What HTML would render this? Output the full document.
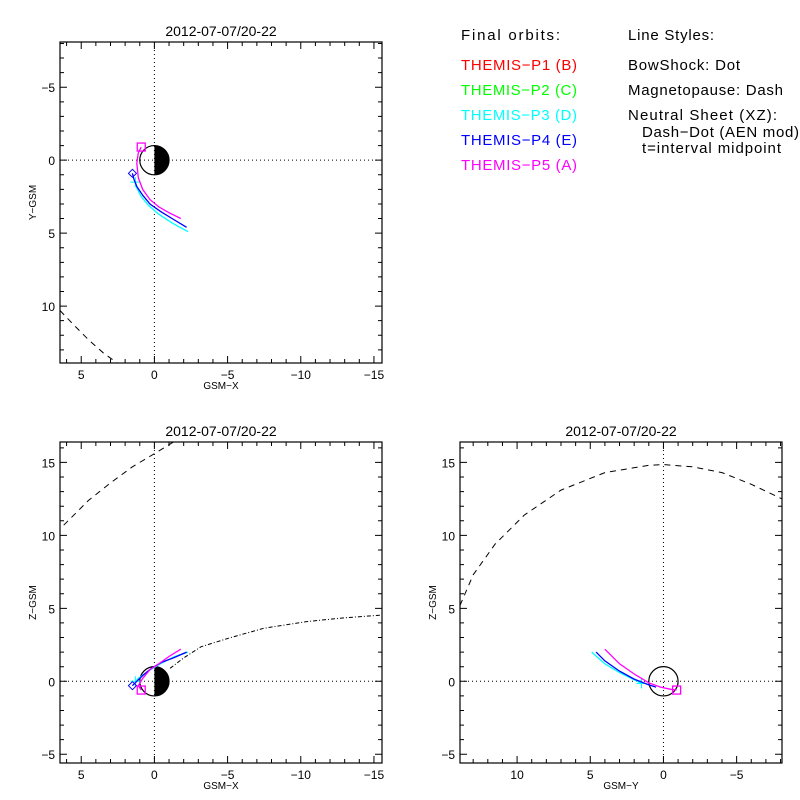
<!DOCTYPE html>
<html><head><meta charset="utf-8"><style>
body{margin:0;background:#fff}
svg{display:block;font-family:"Liberation Sans",sans-serif}
</style></head><body>
<svg id="s" width="800" height="800" viewBox="0 0 800 800">
<g id="legend" font-size="15">
<text x="461" y="40" textLength="99">Final orbits:</text>
<text x="461" y="70" fill="#ff0000" textLength="116">THEMIS−P1 (B)</text>
<text x="461" y="95" fill="#00ff00" textLength="116">THEMIS−P2 (C)</text>
<text x="461" y="120" fill="#00ffff" textLength="116">THEMIS−P3 (D)</text>
<text x="461" y="145" fill="#0000ff" textLength="116">THEMIS−P4 (E)</text>
<text x="461" y="170" fill="#ff00ff" textLength="116">THEMIS−P5 (A)</text>
<text x="628" y="40" textLength="86">Line Styles:</text>
<text x="628" y="70" textLength="112">BowShock: Dot</text>
<text x="628" y="95" textLength="155">Magnetopause: Dash</text>
<text x="628" y="120" textLength="149">Neutral Sheet (XZ):</text>
<text x="642" y="137" textLength="157">Dash−Dot (AEN mod)</text>
<text x="642" y="153" textLength="139">t=interval midpoint</text>
</g>
</svg>
<script>
// Panel 1 (XY)
const xyP5X=[0.9,1.1,1.2,1.1,0.8,0.3,-0.3,-1.0,-1.8];
const xyP5Y=[-0.9,-0.5,0.2,1.2,2.0,2.7,3.2,3.6,4.0];
const xyP4X=[1.5,1.4,1.2,0.8,0.3,-0.4,-1.2,-2.2];
const xyP4Y=[0.9,1.3,1.8,2.4,3.0,3.5,4.0,4.6];
const xyP3X=[1.3,1.2,0.9,0.4,-0.3,-1.2,-2.3];
const xyP3Y=[1.5,1.9,2.5,3.1,3.7,4.3,4.9];
const xyMpX=[6.45,5.5,4.5,3.5,2.4];
const xyMpY=[10.3,11.3,12.3,13.2,14.0];
// Panel 2 (XZ)
const xzP5X=[0.9,1.1,0.8,0.3,-0.3,-1.0,-1.8];
const xzP5Z=[-0.6,-0.3,0.2,0.8,1.2,1.7,2.2];
const xzP4X=[1.5,1.2,0.8,0.2,-0.5,-1.3,-2.2];
const xzP4Z=[-0.3,0.0,0.4,0.9,1.3,1.6,2.0];
const xzP3X=[1.3,1.1,0.7,0.1,-0.6,-1.4,-2.3];
const xzP3Z=[0.0,0.2,0.5,0.9,1.3,1.7,2.0];
const xzMpX=[6.2,4.5,3.0,1.5,0.0,-1.3];
const xzMpZ=[10.7,12.4,13.6,14.7,15.6,16.4];
const xzNsX=[-1.07,-2.0,-3.2,-5.07,-7.47,-10.4,-13.0,-15.6];
const xzNsZ=[0.89,1.6,2.37,2.95,3.63,4.09,4.35,4.54];
// Panel 3 (YZ)
const yzP5Y=[-0.9,-0.5,0.2,1.0,2.0,3.0,4.0];
const yzP5Z=[-0.6,-0.55,-0.4,-0.1,0.5,1.2,2.2];
const yzP4Y=[0.5,1.0,2.0,3.0,4.0,4.6];
const yzP4Z=[-0.4,-0.25,0.15,0.7,1.4,2.0];
const yzP3Y=[1.5,2.0,3.0,4.0,4.9];
const yzP3Z=[-0.15,0.1,0.6,1.2,2.0];
const yzMpY=[13.9,13.0,11.5,9.5,7.0,4.0,1.0,0,-2.0,-4.0,-6.0,-8.1];
const yzMpZ=[5.2,7.3,9.4,11.4,13.1,14.3,14.8,14.85,14.7,14.3,13.5,12.5];

const NS='http://www.w3.org/2000/svg';
const svg=document.getElementById('s');
function mk(tag,attrs,parent){const e=document.createElementNS(NS,tag);for(const k in attrs)e.setAttribute(k,attrs[k]);(parent||svg).appendChild(e);return e;}

function panel(cfg){
  const g=mk('g',{});
  
  
  const {x0,x1,y0,y1}=cfg.box;
  const sx=v=>x0+(cfg.xr[0]-v)/(cfg.xr[0]-cfg.xr[1])*(x1-x0);
  const sy=v=>y0+(cfg.yr[0]-v)/(cfg.yr[0]-cfg.yr[1])*(y1-y0);
  const t=mk('text',{x:(x0+x1)/2,y:y0-6,'text-anchor':'middle','font-size':14},g);
  t.textContent='2012-07-07/20-22';
  
  
  const clip='c'+cfg.name;
  const cp=mk('clipPath',{id:clip},g);mk('rect',{x:x0,y:y0,width:x1-x0,height:y1-y0},cp);
  const pg=mk('g',{'clip-path':'url(#'+clip+')'},g);
  // axes zero lines
  const zl=mk('line',{x1:x0,x2:x1,y1:sy(0),y2:sy(0),stroke:'#000','stroke-dasharray':'1,3'},pg);
  
  
  const zv=mk('line',{x1:sx(0),x2:sx(0),y1:y0,y2:y1,stroke:'#000','stroke-dasharray':'1,3'},pg);
  
  
  // earth
  const r=sx(0)-sx(1);
  if(cfg.half){
    const hp=mk('path',{d:`M${sx(0)},${sy(0)-r} A${r},${r} 0 0 1 ${sx(0)},${sy(0)+r} Z`,fill:'#000'},pg);
    
    
  }
  const ec=mk('circle',{cx:sx(0),cy:sy(0),r:r,fill:'none',stroke:'#000','stroke-width':1.2},pg);
  
  
  cfg.lines.forEach(L=>{
    const pts=L.xs.map((v,i)=>sx(v).toFixed(1)+','+sy(L.ys[i]).toFixed(1)).join(' ');
    const pl=mk('polyline',{points:pts,fill:'none',stroke:L.c,'stroke-width':L.w||1.3,'stroke-dasharray':L.d||''},pg);
    
    
    if(L.m){
      const px=sx(L.xs[0]),py=sy(L.ys[0]);let m;
      if(L.m==='sq')m=mk('rect',{x:px-4,y:py-4,width:8,height:8,fill:'none',stroke:L.c,'stroke-width':1.3},pg);
      else if(L.m==='di')m=mk('path',{d:`M${px},${py-4}L${px+4},${py}L${px},${py+4}L${px-4},${py}Z`,fill:'none',stroke:L.c},pg);
      else m=mk('path',{d:`M${px-5},${py}H${px+5}M${px},${py-5}V${py+5}`,stroke:L.c},pg);
      
      
    }
  });
  const fr=mk('rect',{x:x0,y:y0,width:x1-x0,height:y1-y0,fill:'none',stroke:'#000','stroke-width':1.2},g);
  
  
  // ticks
  let d='';
  const xa=Math.min(...cfg.xr),xb=Math.max(...cfg.xr);
  for(let v=Math.ceil(xa);v<=xb;v++){const L=v%5===0?7:4;const X=sx(v);d+=`M${X},${y1}v${-L}M${X},${y0}v${L}`;
    if(v%5===0){const tl=mk('text',{x:X,y:y1+16,'text-anchor':'middle','font-size':12},g);tl.textContent=v===0?'0':(v<0?'−'+(-v):v);
      
      }}
  const ya=Math.min(...cfg.yr),yb=Math.max(...cfg.yr);
  for(let v=Math.ceil(ya);v<=yb;v++){const L=v%5===0?7:4;const Y=sy(v);d+=`M${x0},${Y}h${L}M${x1},${Y}h${-L}`;
    if(v%5===0){const tl=mk('text',{x:x0-5,y:Y+5,'text-anchor':'end','font-size':12},g);tl.textContent=v===0?'0':(v<0?'−'+(-v):v);
      
      }}
  const tk=mk('path',{d:d,stroke:'#000','stroke-width':1},g);
  
  
  const xt=mk('text',{x:(x0+x1)/2,y:y1+26,'text-anchor':'middle','font-size':10},g);xt.textContent=cfg.xl;
  
  
  const yt=mk('text',{x:0,y:0,'text-anchor':'middle','font-size':10,transform:`translate(${x0-24},${(y0+y1)/2}) rotate(-90)`},g);yt.textContent=cfg.yl;
  
  
}
panel({name:'xy-panel',box:{x0:60,x1:382,y0:42,y1:363},xr:[6.45,-15.55],yr:[-8.1,13.9],xl:'GSM−X',yl:'Y−GSM',half:true,lines:[
 {n:'magnetopause',xs:xyMpX,ys:xyMpY,c:'#000',d:'6,5',w:1},
 {n:'orbit-p3',xs:xyP3X,ys:xyP3Y,c:'#00ffff',m:'cr'},
 {n:'orbit-p4',xs:xyP4X,ys:xyP4Y,c:'#0000ff',m:'di'},
 {n:'orbit-p5',xs:xyP5X,ys:xyP5Y,c:'#ff00ff',m:'sq'}]});
panel({name:'xz-panel',box:{x0:60,x1:382,y0:442,y1:763},xr:[6.45,-15.55],yr:[16.4,-5.6],xl:'GSM−X',yl:'Z−GSM',half:true,lines:[
 {n:'magnetopause',xs:xzMpX,ys:xzMpZ,c:'#000',d:'6,5',w:1},
 {n:'neutral-sheet',xs:xzNsX,ys:xzNsZ,c:'#000',d:'4,2,1,2',w:1},
 {n:'orbit-p3',xs:xzP3X,ys:xzP3Z,c:'#00ffff',m:'cr'},
 {n:'orbit-p4',xs:xzP4X,ys:xzP4Z,c:'#0000ff',m:'di'},
 {n:'orbit-p5',xs:xzP5X,ys:xzP5Z,c:'#ff00ff',m:'sq'}]});
panel({name:'yz-panel',box:{x0:460,x1:782,y0:442,y1:763},xr:[13.9,-8.1],yr:[16.4,-5.6],xl:'GSM−Y',yl:'Z−GSM',half:false,lines:[
 {n:'magnetopause',xs:yzMpY,ys:yzMpZ,c:'#000',d:'6,5',w:1},
 {n:'orbit-p3',xs:yzP3Y,ys:yzP3Z,c:'#00ffff',m:'cr'},
 {n:'orbit-p4',xs:yzP4Y,ys:yzP4Z,c:'#0000ff'},
 {n:'orbit-p5',xs:yzP5Y,ys:yzP5Z,c:'#ff00ff',m:'sq'}]});
</script>
</body></html>
